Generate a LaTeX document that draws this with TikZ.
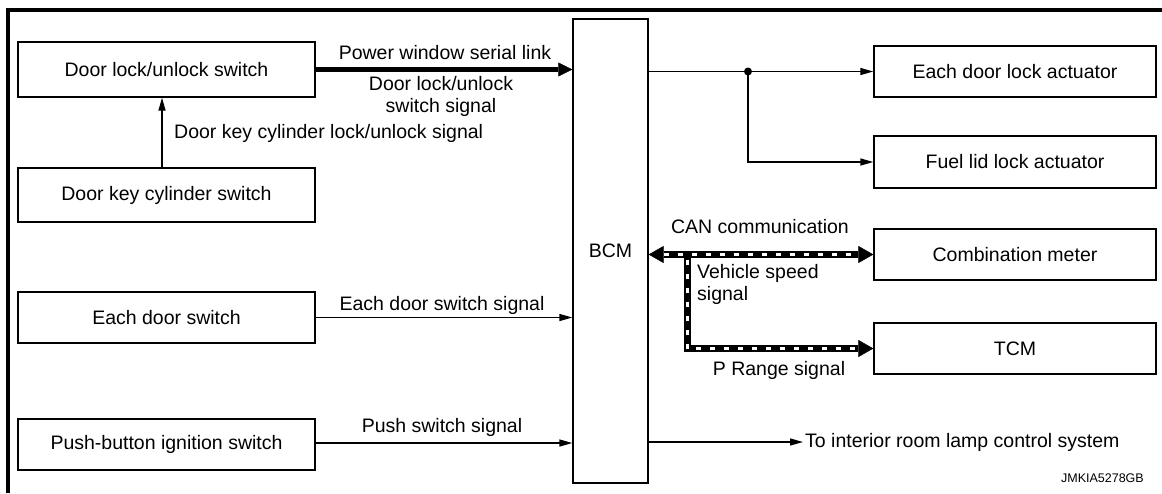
\documentclass[tikz,border=0pt]{standalone}
\usepackage{fontspec}
\setmainfont{Liberation Sans}
\usetikzlibrary{arrows.meta,calc}
\newcommand\diaglbl{\fontsize{19.5}{22}\selectfont}
\begin{document}
\begin{tikzpicture}[x=1pt,y=-1pt,
  box/.style={draw=black,line width=1.3pt,inner sep=0pt,font=\diaglbl,align=center},
  lbox/.style={box,minimum width=297pt},
  rbox/.style={box,minimum width=282pt},
  lbl/.style={inner sep=0pt,font=\diaglbl,align=center},
  arr/.style={line width=1.3pt,-{Triangle[length=13pt,width=7pt]}},
  thickarr/.style={line width=5pt,-{Triangle[length=14pt,width=14pt,line width=0.5pt]}},
  canblack/.style={line width=7pt,black},
  canwhite/.style={line width=3pt,white,dash pattern=on 5pt off 9pt},
  frame/.style={line width=4pt,line join=miter}]
\useasboundingbox (0,0) rectangle (1162,493);
% frame
\draw[frame] (8,493) -- (8,9.5) -- (1162,9.5);
% left boxes
\node[lbox,minimum height=55pt] (dls) at (166.5,69.5) {Door lock/unlock switch};
\node[lbox,minimum height=54pt] (dkc) at (166.5,195) {Door key cylinder switch};
\node[lbox,minimum height=51pt] (eds) at (166.5,317.5) {Each door switch};
\node[lbox,minimum height=51pt] (pbi) at (166.5,444.5) {Push-button ignition switch};
% BCM
\node[box,minimum width=75pt,minimum height=464pt] (bcm) at (610.5,251) {BCM};
% right boxes
\node[rbox,minimum height=51pt] (edla) at (1015,71.5) {Each door lock actuator};
\node[rbox,minimum height=52pt] (flla) at (1015,162) {Fuel lid lock actuator};
\node[rbox,minimum height=51pt] (cm) at (1015,254.5) {Combination meter};
\node[rbox,minimum height=51pt] (tcm) at (1015,348.5) {TCM};
% left connectors
\draw[thickarr] (dls.east) -- (dls.east -| bcm.west);
\node[lbl] (pwsl) at (445,53) {Power window serial link};
\node[lbl] (dlss) at (441,96) {Door lock/unlock\\switch signal};
\draw[arr] ($(dkc.north)+(-4.5,0)$) -- ($(dls.south)+(-4.5,0)$);
\node[lbl,anchor=west] (dkcs) at (174,133) {Door key cylinder lock/unlock signal};
\draw[arr] (eds.east) -- (eds.east -| bcm.west);
\node[lbl] (edss) at (442,305) {Each door switch signal};
\draw[arr] ($(pbi.east)+(0,-1.5)$) -- ($(pbi.east -| bcm.west)+(0,-1.5)$);
\node[lbl] (pss) at (442,427) {Push switch signal};
% right connectors
\coordinate (split) at (748,71.5);
\draw[arr] (edla.west -| bcm.east) -- (edla.west);
\draw[arr] (split) -- (split |- flla.west) -- (flla.west);
\fill (split) circle (4);
% CAN
\coordinate (canj) at (687,254.5);
\draw[canblack,{Triangle[length=15pt,width=17pt,line width=0.5pt]}-{Triangle[length=15pt,width=17pt,line width=0.5pt]}] (cm.west -| bcm.east) -- (cm.west);
\draw[canblack,-{Triangle[length=15pt,width=17pt,line width=0.5pt]}] (canj) -- (canj |- tcm.west) -- (tcm.west);
\draw[canwhite] ($(cm.west -| bcm.east)+(15,0)$) -- ($(cm.west)+(-15,0)$);
\draw[canwhite] ($(canj)+(0,5)$) -- (canj |- tcm.west) -- ($(tcm.west)+(-15,0)$);
\node[lbl] (canc) at (760,227) {CAN communication};
\node[lbl,anchor=west,align=left] (vss) at (697,284) {Vehicle speed\\signal};
\node[lbl] (prs) at (779,370) {P Range signal};
% lamp
\coordinate (lampend) at (803,442);
\draw[arr] (lampend -| bcm.east) -- (lampend);
\node[lbl,anchor=west] (lamp) at (805,442) {To interior room lamp control system};
\node[inner sep=0pt,font=\fontsize{12.5}{14}\selectfont,anchor=east] (code) at (1144,478) {JMKIA5278GB};
\end{tikzpicture}
\end{document}
